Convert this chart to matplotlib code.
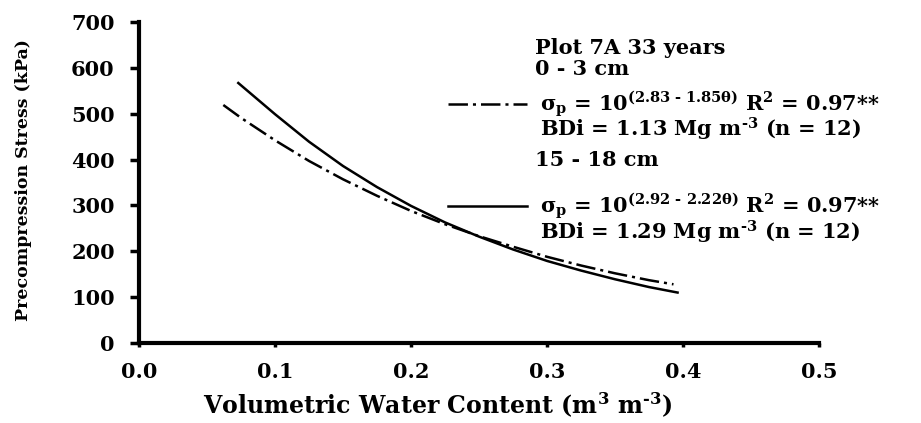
import numpy as np
import matplotlib
matplotlib.use("Agg")
import matplotlib.pyplot as plt
from matplotlib.lines import Line2D

# %%
# Values (theta in m3 m-3, stress in kPa)
theta_0_3 = [0.062, 0.075, 0.10, 0.125, 0.15, 0.175, 0.20, 0.225, 0.25,
             0.275, 0.30, 0.325, 0.35, 0.375, 0.393]
stress_0_3 = [519, 491, 442, 397, 357, 321, 288, 259, 233,
              210, 188, 169, 152, 137, 128]

theta_15_18 = [0.073, 0.10, 0.125, 0.15, 0.175, 0.20, 0.225, 0.25,
               0.275, 0.30, 0.325, 0.35, 0.375, 0.396]
stress_15_18 = [567, 499, 439, 386, 340, 299, 263, 232,
                204, 179, 158, 139, 122, 110]

x_ticks = [0.0, 0.1, 0.2, 0.3, 0.4, 0.5]
y_ticks = [0, 100, 200, 300, 400, 500, 600, 700]

title_text = "Plot 7A 33 years"
depth_1 = "0 - 3 cm"
depth_2 = "15 - 18 cm"
eq_1 = r"$\sigma_p$ = 10$^{(2.83\ \text{-}\ 1.85\theta)}$ R$^2$ = 0.97**"
bd_1 = r"BDi = 1.13 Mg m$^{\text{-}3}$ (n = 12)"
eq_2 = r"$\sigma_p$ = 10$^{(2.92\ \text{-}\ 2.22\theta)}$ R$^2$ = 0.97**"
bd_2 = r"BDi = 1.29 Mg m$^{\text{-}3}$ (n = 12)"

# %%
plt.rcParams['font.family'] = 'DejaVu Serif'
plt.rcParams['font.weight'] = 'bold'
plt.rcParams['mathtext.fontset'] = 'custom'
plt.rcParams['mathtext.rm'] = 'DejaVu Serif:bold'
plt.rcParams['mathtext.it'] = 'DejaVu Serif:bold'
plt.rcParams['mathtext.bf'] = 'DejaVu Serif:bold'
plt.rcParams['lines.scale_dashes'] = False

fig = plt.figure(figsize=(9.21, 4.23), dpi=100)
ax = fig.add_axes([139 / 921, 1 - 343 / 423, 680 / 921, 321 / 423])

dashdot = (14, 3.6, 2.2, 3.6)
ax.plot(theta_0_3, stress_0_3, color='black', lw=1.8, dashes=dashdot)
ax.plot(theta_15_18, stress_15_18, color='black', lw=1.8)

ax.set_xlim(0, 0.5)
ax.set_ylim(0, 700)
ax.set_xticks(x_ticks)
ax.set_xticklabels([f"{v:.1f}" for v in x_ticks])
ax.set_yticks(y_ticks)

for side in ['top', 'right']:
    ax.spines[side].set_visible(False)
for side in ['left', 'bottom']:
    ax.spines[side].set_linewidth(3)
ax.tick_params(axis='y', direction='out', length=6.5, width=2.5, pad=11, labelsize=15)
ax.tick_params(axis='x', direction='out', length=3, width=2.5, pad=11, labelsize=15)

ax.set_xlabel(r"Volumetric Water Content (m$^3$ m$^{\text{-}3}$)", fontsize=17,
              fontweight='bold')
ax.xaxis.set_label_coords(0.44, -0.15)
ax.set_ylabel("Precompression Stress (kPa)", fontsize=12.5, fontweight='bold')
ax.yaxis.set_label_coords(-0.158, 0.508)

# %%
# legend block, built by hand like the original
fs = 15
tx = ax.transAxes
ax.text(0.582, 0.919, title_text, transform=tx, fontsize=fs, va='center', clip_on=False)
ax.text(0.582, 0.854, depth_1, transform=tx, fontsize=fs, va='center', clip_on=False)
ax.add_line(Line2D([0.454, 0.571], [0.745, 0.745], transform=tx, color='black',
                   lw=1.8, dashes=dashdot, clip_on=False))
ax.text(0.590, 0.745, eq_1, transform=tx, fontsize=fs, va='center', clip_on=False)
ax.text(0.590, 0.664, bd_1, transform=tx, fontsize=fs, va='center', clip_on=False)
ax.text(0.582, 0.570, depth_2, transform=tx, fontsize=fs, va='center', clip_on=False)
ax.add_line(Line2D([0.454, 0.571], [0.427, 0.427], transform=tx, color='black',
                   lw=1.8, clip_on=False))
ax.text(0.590, 0.427, eq_2, transform=tx, fontsize=fs, va='center', clip_on=False)
ax.text(0.590, 0.343, bd_2, transform=tx, fontsize=fs, va='center', clip_on=False)

fig.savefig('out.png', dpi=100)
